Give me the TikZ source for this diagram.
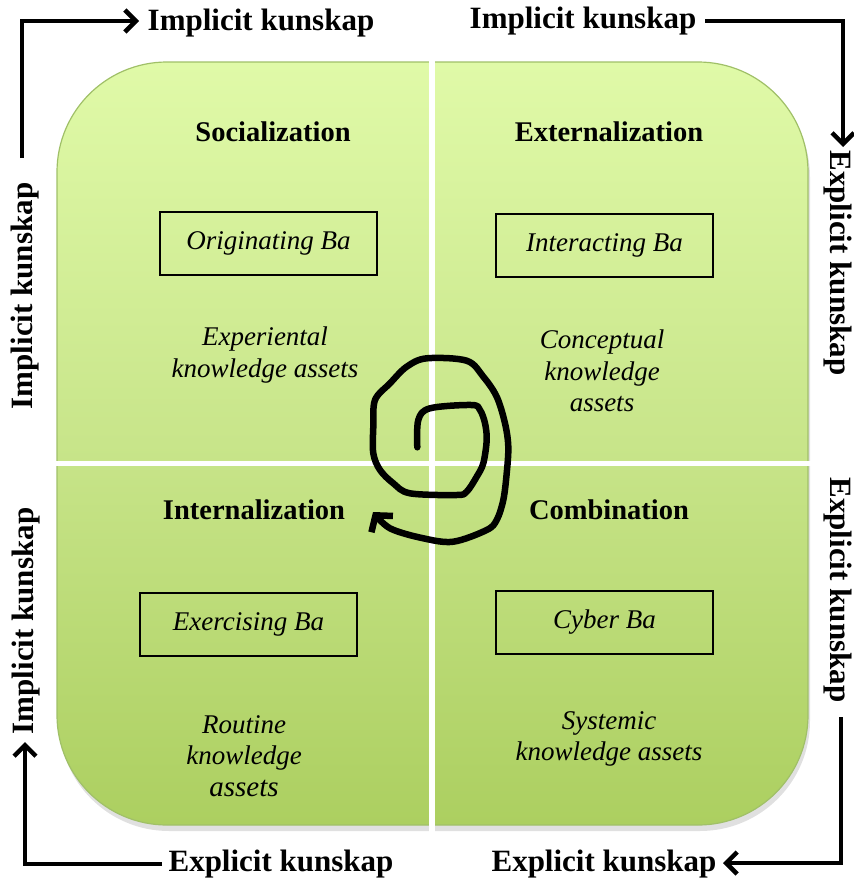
\documentclass[tikz,border=0pt]{standalone}
\usepackage{fontspec}
\setmainfont{Liberation Serif}
\usetikzlibrary{arrows.meta,shadows}
\definecolor{gtop}{RGB}{224,250,168}
\definecolor{gmid}{RGB}{200,229,138}
\definecolor{gbot}{RGB}{172,207,96}
\definecolor{gborder}{RGB}{160,192,104}
\begin{document}
\begin{tikzpicture}[x=1pt,y=-1pt,
  kl/.style={font=\fontsize{31}{35}\selectfont\bfseries, inner sep=0pt},
  ttl/.style={font=\fontsize{28.5}{33}\selectfont\bfseries, inner sep=0pt},
  babox/.style={draw=black, line width=1.8pt, minimum width=217pt, minimum height=63pt, inner sep=0pt, font=\fontsize{27}{31}\selectfont\itshape},
  desc/.style={align=center, inner sep=0pt, font=\fontsize{27}{31.5}\selectfont\itshape},
  karr/.style={line width=4.5pt, -{Straight Barb[length=11pt,width=22pt]}},
  gap/.style={white, line width=5.5pt}
]
\useasboundingbox (0,0) rectangle (854,881);
% background shape
\fill[black!35, opacity=0.35, rounded corners=110pt] (59,67) rectangle (810,831);
\shade[top color=gtop, bottom color=gbot, middle color=gmid, rounded corners=110pt] (57,62) rectangle (808,825);
\draw[gborder, line width=1.2pt, rounded corners=110pt] (57,62) rectangle (808,825);
\draw[gap] (432,50) -- (432,840);
\draw[gap] (45,463.5) -- (820,463.5);
% titles
\node[ttl] (soc) at (273,132) {Socialization};
\node[ttl] (ext) at (609,132) {Externalization};
\node[ttl] (int) at (254,510) {Internalization};
\node[ttl] (com) at (609,510) {Combination};
% Ba boxes
\node[babox] (orig) at (268.5,243.5) {Originating Ba};
\node[babox] (inter) at (604.5,245.5) {Interacting Ba};
\node[babox] (exer) at (248.5,624.5) {Exercising Ba};
\node[babox] (cyb) at (604.5,622.5) {Cyber Ba};
% descriptions
\node[desc] (d1) at (265,355) {Experiental\\knowledge assets};
\node[desc] (d2) at (602,371) {Conceptual\\knowledge\\assets};
\node[desc] (d3) at (244,756) {Routine\\knowledge\\{\fontsize{29}{31.5}\selectfont assets}};
\node[desc] (d4) at (609,739) {Systemic\\knowledge assets};
% side labels
\node[kl] (tl) at (261,23) {Implicit kunskap};
\node[kl] (tr) at (583,21) {Implicit kunskap};
\node[kl, rotate=90] (lu) at (25,296) {Implicit kunskap};
\node[kl, rotate=90] (ll) at (26,621) {Implicit kunskap};
\node[kl, rotate=-90] (ru) at (838,263) {Explicit kunskap};
\node[kl, rotate=-90] (rl) at (838,590) {Explicit kunskap};
\node[kl] (bl) at (281,864) {Explicit kunskap};
\node[kl] (br) at (604,864) {Explicit kunskap};
% arrow coordinates
\coordinate (a1s) at (22,158); \coordinate (a1e) at (139,21);
\coordinate (a2s) at (705,21); \coordinate (a2e) at (843,147);
\coordinate (a3s) at (841,717); \coordinate (a3e) at (723,863);
\coordinate (a4s) at (162,864); \coordinate (a4e) at (25,742);
\draw[karr] (a1s) |- (a1e);
\draw[karr] (a2s) -| (a2e);
\draw[karr] (a3s) |- (a3e);
\draw[karr] (a4s) -| (a4e);
% spiral
\draw[line width=6.5pt, line cap=round, line join=round, -{Straight Barb[length=11pt,width=27pt]}]
  plot[smooth, tension=0.55] coordinates {
  (417.3,447.3) (418.3,420) (430,408.3) (471.7,405) (480,410) (485,423.3)
  (486.7,440) (483.3,463.3) (476.7,476.7) (466.7,491.7) (456.7,495)
  (410,493.3) (393.3,483.3) (380,470) (373.3,453.3) (373.3,426.7)
  (375,400) (390,383.3) (406.7,366.7) (426.7,358.3) (466.7,360.7)
  (483.3,376.7) (496.7,396.7) (505,423.3) (508.3,446.7) (506.7,473.3)
  (503.3,500) (496.7,520) (486.7,530) (453.3,541.7) (423.3,538.3)
  (390,528.3) (373,512)};
\end{tikzpicture}
\end{document}
